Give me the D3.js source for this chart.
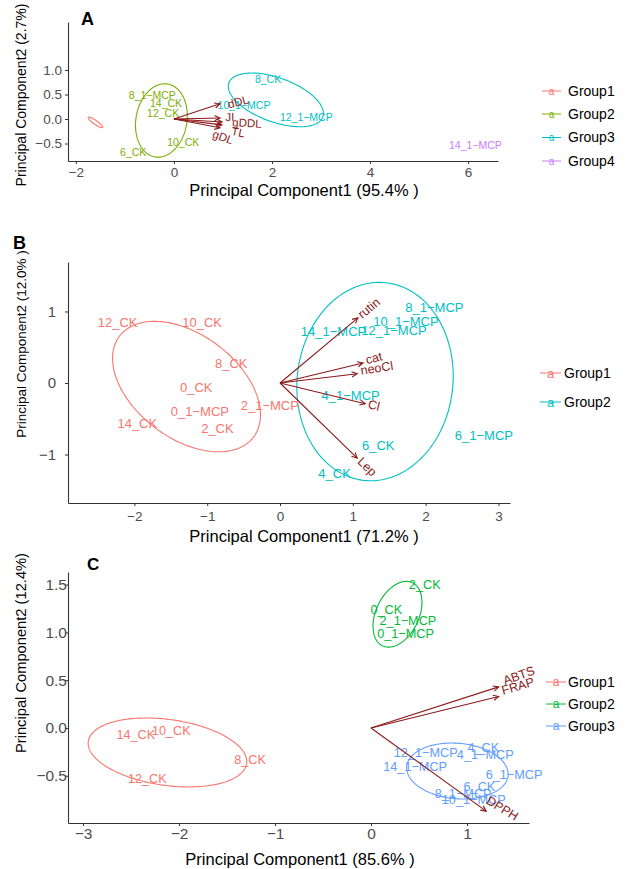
<!DOCTYPE html>
<html><head><meta charset="utf-8">
<script src="https://cdn.jsdelivr.net/npm/d3@7"></script>
<style>body{margin:0;background:#fff}svg text{font-family:"Liberation Sans",Arial,sans-serif}</style>
</head><body><svg id="c" width="627" height="869"></svg>
<script>
// ================= Panel A =================
const aGroups = ["Group1","Group2","Group3","Group4"];
const aColors = ["#F8766D","#7CAE00","#00BFC4","#C77CFF"];
const aSamples = ["8_1−MCP","14_CK","12_CK","10_CK","6_CK","8_CK","10_1−MCP","12_1−MCP","14_1−MCP"];
const aSampleGroup = [1,1,1,1,1,2,2,2,3];
const aPC1 = [-0.44,-0.16,-0.22,0.19,-0.83,1.92,1.43,2.70,6.15];
const aPC2 = [0.49,0.31,0.12,-0.48,-0.67,0.80,0.27,0.04,-0.53];
const aVars = ["dDL","JI","gDDL","TL","gDL"];
const aVarPC1 = [0.94,0.94,0.98,0.98,0.94];
const aVarPC2 = [0.31,0.02,-0.06,-0.12,-0.18];
const aVarLabPC1 = [1.31,1.14,1.49,1.31,1.00];
const aVarLabPC2 = [0.35,0.04,-0.08,-0.27,-0.37];
const aEllGroup = [0,1,2];
const aEllCx = [-1.60,-0.255,2.08];
const aEllCy = [-0.07,-0.03,0.39];
const aEllA = [0.18,0.755,1.02];
const aEllB = [0.04,0.52,0.45];
const aEllAngle = [-35,80,-20];
const aXTicks = [-2,0,2,4,6];
const aYTicks = [-0.5,0,0.5,1.0];

// ================= Panel B =================
const bGroups = ["Group1","Group2"];
const bColors = ["#F8766D","#00BFC4"];
const bSamples = ["12_CK","10_CK","8_CK","0_CK","0_1−MCP","2_CK","14_CK","2_1−MCP",
                  "8_1−MCP","10_1−MCP","14_1−MCP","12_1−MCP","4_1−MCP","6_CK","4_CK","6_1−MCP"];
const bSampleGroup = [0,0,0,0,0,0,0,0,1,1,1,1,1,1,1,1];
const bPC1 = [-2.23,-1.07,-0.67,-1.15,-1.10,-0.86,-1.96,-0.14,2.12,1.73,0.735,1.566,0.97,1.35,0.75,2.80];
const bPC2 = [0.84,0.84,0.28,-0.06,-0.40,-0.63,-0.57,-0.31,1.05,0.86,0.72,0.73,-0.17,-0.88,-1.27,-0.74];
const bVars = ["rutin","cat","neoCl","Cl","Lep"];
const bVarPC1 = [1.07,1.14,1.06,1.17,1.06];
const bVarPC2 = [0.91,0.28,0.13,-0.29,-1.05];
const bVarLabPC1 = [1.22,1.29,1.33,1.29,1.20];
const bVarLabPC2 = [1.05,0.35,0.21,-0.31,-1.17];
const bEllGroup = [0,1];
const bEllCx = [-1.284,1.305];
const bEllCy = [-0.05,0.02];
const bEllA = [1.16,1.39];
const bEllB = [0.72,1.07];
const bEllAngle = [-38,84];
const bXTicks = [-2,-1,0,1,2,3];
const bYTicks = [-1,0,1];

// ================= Panel C =================
const cGroups = ["Group1","Group2","Group3"];
const cColors = ["#F8766D","#00BA38","#619CFF"];
const cSamples = ["14_CK","10_CK","8_CK","12_CK",
                  "2_CK","0_CK","2_1−MCP","0_1−MCP",
                  "12_1−MCP","4_CK","4_1−MCP","14_1−MCP","6_1−MCP","6_CK","8_1−MCP","10_1−MCP"];
const cSampleGroup = [0,0,0,0,1,1,1,1,2,2,2,2,2,2,2,2];
const cPC1 = [-2.45,-2.08,-1.26,-2.33,0.56,0.16,0.385,0.36,0.57,1.17,1.19,0.46,1.49,1.13,0.96,1.07];
const cPC2 = [-0.07,-0.03,-0.33,-0.53,1.50,1.24,1.12,0.99,-0.26,-0.20,-0.28,-0.40,-0.49,-0.61,-0.69,-0.75];
const cVars = ["ABTS","FRAP","DPPH"];
const cVarPC1 = [1.33,1.33,1.20];
const cVarPC2 = [0.43,0.33,-0.87];
const cVarLabPC1 = [1.54,1.53,1.37];
const cVarLabPC2 = [0.55,0.44,-0.84];
const cEllGroup = [0,1,2];
const cEllCx = [-2.12,0.276,0.90];
const cEllCy = [-0.256,1.19,-0.45];
const cEllA = [0.833,0.365,0.53];
const cEllB = [0.345,0.224,0.29];
const cEllAngle = [-8,65,-5];
const cXTicks = [-3,-2,-1,0,1];
const cYTicks = [-0.5,0,0.5,1.0,1.5];

const ARROW = "#8B1A1A";
const svg = d3.select("#c");

function drawPanel(p){
  const g = svg.append("g");
  const x = d3.scaleLinear().domain(p.xDomain).range([p.left,p.right]);
  const y = d3.scaleLinear().domain(p.yDomain).range([p.bottom,p.top]);

  p.ellGroup.forEach((gi,i)=>{
    const phi = p.ellAngle[i]*Math.PI/180;
    const pts = d3.range(0,361,2).map(d=>{
      const t = d*Math.PI/180;
      const dx = p.ellA[i]*Math.cos(t)*Math.cos(phi) - p.ellB[i]*Math.sin(t)*Math.sin(phi);
      const dy = p.ellA[i]*Math.cos(t)*Math.sin(phi) + p.ellB[i]*Math.sin(t)*Math.cos(phi);
      return [x(p.ellCx[i]+dx), y(p.ellCy[i]+dy)];
    });
    g.append("path").attr("d",d3.line()(pts)).attr("fill","none")
      .attr("stroke",p.colors[gi]).attr("stroke-width",1.1);
  });

  p.samples.forEach((s,i)=>{
    g.append("text").attr("x",x(p.pc1[i])).attr("y",y(p.pc2[i])).attr("dy","0.35em")
      .attr("text-anchor","middle").attr("font-size",p.sampleFont)
      .attr("fill",p.colors[p.sampleGroup[i]]).text(s);
  });

  const ox = x(0), oy = y(0);
  p.vars.forEach((v,i)=>{
    const ex = x(p.vx[i]), ey = y(p.vy[i]);
    const th = Math.atan2(ey-oy, ex-ox);
    const L = 6, w = 0.45;
    g.append("line").attr("x1",ox).attr("y1",oy).attr("x2",ex).attr("y2",ey)
      .attr("stroke",ARROW).attr("stroke-width",1.1);
    const p1 = [ex - L*Math.cos(th-w), ey - L*Math.sin(th-w)];
    const p2 = [ex - L*Math.cos(th+w), ey - L*Math.sin(th+w)];
    g.append("path").attr("d",`M${p1}L${ex},${ey}L${p2}`).attr("fill","none")
      .attr("stroke",ARROW).attr("stroke-width",1.1);
    const lx = x(p.lx[i]), ly = y(p.ly[i]);
    const ang = Math.atan2(ly-oy, lx-ox)*180/Math.PI;
    g.append("text").attr("transform",`translate(${lx},${ly}) rotate(${ang})`).attr("dy","0.35em")
      .attr("text-anchor","middle").attr("font-size",p.varFont).attr("fill",ARROW).text(v);
  });

  const xa = g.append("g").attr("transform",`translate(0,${p.bottom})`)
    .call(d3.axisBottom(x).tickValues(p.xTicks).tickFormat(p.xFmt).tickSize(3).tickSizeOuter(0).tickPadding(p.xPad));
  const ya = g.append("g").attr("transform",`translate(${p.left},0)`)
    .call(d3.axisLeft(y).tickValues(p.yTicks).tickFormat(p.yFmt).tickSize(3).tickSizeOuter(0).tickPadding(p.yPad));
  [xa,ya].forEach(a=>{
    a.select(".domain").attr("stroke","#333").attr("stroke-width",1.1);
    a.selectAll(".tick line").attr("stroke","#333").attr("stroke-width",1);
    a.selectAll(".tick text").attr("fill","#4D4D4D").style("font-family","Liberation Sans, Arial, sans-serif");
  });
  xa.selectAll(".tick text").attr("font-size",p.xTickFont);
  ya.selectAll(".tick text").attr("font-size",p.yTickFont);

  g.append("text").attr("x",p.xTitlePos[0]).attr("y",p.xTitlePos[1]).attr("text-anchor","middle")
    .attr("font-size",p.xTitleSize).attr("fill","#000").text(p.xTitle);
  g.append("text").attr("transform",`translate(${p.yTitlePos[0]},${p.yTitlePos[1]}) rotate(-90)`)
    .attr("text-anchor","middle").attr("font-size",p.yTitleSize).attr("fill","#000").text(p.yTitle);
  g.append("text").attr("x",p.letterPos[0]).attr("y",p.letterPos[1]).attr("font-size",p.letterSize)
    .attr("font-weight","bold").attr("fill","#000").text(p.letter);

  p.groups.forEach((gr,i)=>{
    const ly = p.legend.ys[i];
    g.append("line").attr("x1",p.legend.x1).attr("x2",p.legend.x2).attr("y1",ly).attr("y2",ly)
      .attr("stroke",p.colors[i]).attr("stroke-width",1);
    g.append("text").attr("x",(p.legend.x1+p.legend.x2)/2).attr("y",ly).attr("dy","0.35em")
      .attr("text-anchor","middle").attr("font-size",p.legend.keySize).attr("fill",p.colors[i]).text("a");
    g.append("text").attr("x",p.legend.tx).attr("y",ly).attr("dy","0.35em")
      .attr("font-size",14).attr("fill","#000").text(gr);
  });
}

drawPanel({
  letter:"A", letterPos:[81,25], letterSize:18,
  left:68,right:498,top:22,bottom:161, xDomain:[-2.16,6.61], yDomain:[-0.857,1.98],
  groups:aGroups, colors:aColors, samples:aSamples, sampleGroup:aSampleGroup, pc1:aPC1, pc2:aPC2,
  vars:aVars, vx:aVarPC1, vy:aVarPC2, lx:aVarLabPC1, ly:aVarLabPC2,
  ellGroup:aEllGroup, ellCx:aEllCx, ellCy:aEllCy, ellA:aEllA, ellB:aEllB, ellAngle:aEllAngle,
  xTicks:aXTicks, yTicks:aYTicks, xFmt:d3.format("d"), yFmt:d3.format(".1f"),
  xPad:3, yPad:3, xTickFont:13.5, yTickFont:13.5, sampleFont:10.5, varFont:11.5,
  xTitle:"Principal Component1 (95.4% )", xTitlePos:[304,196], xTitleSize:16.5,
  yTitle:"Principal Component2 (2.7%)", yTitlePos:[25.5,95], yTitleSize:14,
  legend:{x1:542,x2:561,tx:568,ys:[91,114,137.5,161],keySize:10}
});

drawPanel({
  letter:"B", letterPos:[13,249], letterSize:18,
  left:68,right:510,top:262,bottom:503, xDomain:[-2.912,3.159], yDomain:[-1.678,1.692],
  groups:bGroups, colors:bColors, samples:bSamples, sampleGroup:bSampleGroup, pc1:bPC1, pc2:bPC2,
  vars:bVars, vx:bVarPC1, vy:bVarPC2, lx:bVarLabPC1, ly:bVarLabPC2,
  ellGroup:bEllGroup, ellCx:bEllCx, ellCy:bEllCy, ellA:bEllA, ellB:bEllB, ellAngle:bEllAngle,
  xTicks:bXTicks, yTicks:bYTicks, xFmt:d3.format("d"), yFmt:d3.format("d"),
  xPad:5, yPad:9, xTickFont:13.5, yTickFont:15, sampleFont:13, varFont:12.5,
  xTitle:"Principal Component1 (71.2% )", xTitlePos:[304,542], xTitleSize:16.5,
  yTitle:"Principal Component2 (12.0% )", yTitlePos:[25.5,344], yTitleSize:13.5,
  legend:{x1:540,x2:561,tx:564,ys:[373,402],keySize:13}
});

drawPanel({
  letter:"C", letterPos:[87,570], letterSize:17,
  left:68,right:529,top:572,bottom:823, xDomain:[-3.156,1.646], yDomain:[-0.994,1.632],
  groups:cGroups, colors:cColors, samples:cSamples, sampleGroup:cSampleGroup, pc1:cPC1, pc2:cPC2,
  vars:cVars, vx:cVarPC1, vy:cVarPC2, lx:cVarLabPC1, ly:cVarLabPC2,
  ellGroup:cEllGroup, ellCx:cEllCx, ellCy:cEllCy, ellA:cEllA, ellB:cEllB, ellAngle:cEllAngle,
  xTicks:cXTicks, yTicks:cYTicks, xFmt:d3.format("d"), yFmt:d3.format(".1f"),
  xPad:2, yPad:-2, xTickFont:15.5, yTickFont:15.5, sampleFont:12.7, varFont:12.5,
  xTitle:"Principal Component1 (85.6% )", xTitlePos:[300,865], xTitleSize:16.5,
  yTitle:"Principal Component2 (12.4%)", yTitlePos:[26,653], yTitleSize:14.7,
  legend:{x1:546,x2:566,tx:568,ys:[682,704,726],keySize:12}
});
</script></body></html>
